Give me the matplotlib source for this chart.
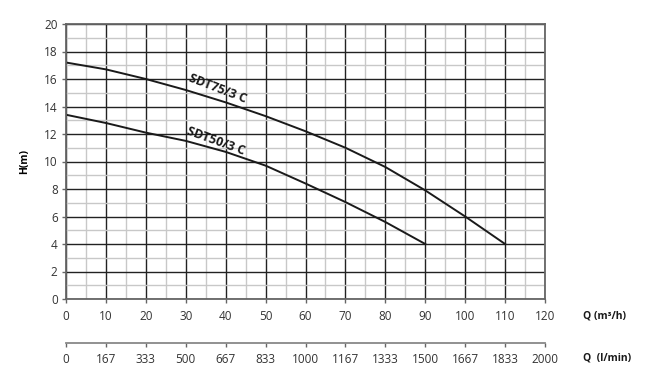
import numpy as np
import matplotlib.pyplot as plt

plt.rcParams['font.family'] = ['Open Sans', 'DejaVu Sans']

q = [0, 10, 20, 30, 40, 50, 60, 70, 80, 90, 100, 110]
h75 = [17.2, 16.7, 16.0, 15.2, 14.3, 13.3, 12.2, 11.0, 9.6, 7.9, 6.0, 4.0]
q50 = [0, 10, 20, 30, 40, 50, 60, 70, 80, 90]
h50 = [13.4, 12.8, 12.1, 11.5, 10.7, 9.7, 8.4, 7.05, 5.6, 4.0]
lmin_labels = ['0', '167', '333', '500', '667', '833', '1000', '1167', '1333', '1500', '1667', '1833', '2000']

W, H = 649, 377
fig = plt.figure(figsize=(W / 100, H / 100), dpi=100)
l, r, t, b = 66 / W, 545 / W, 1 - 24 / H, 1 - 299 / H
ax = fig.add_axes([l, b, r - l, t - b])

ax.set_xlim(0, 120)
ax.set_ylim(0, 20)
ax.set_xticks(np.arange(0, 121, 10))
ax.set_yticks(np.arange(0, 21, 2))
ax.set_xticks(np.arange(0, 121, 5), minor=True)
ax.set_yticks(np.arange(0, 21, 1), minor=True)
ax.grid(which='minor', color='#c8c8c8', lw=1.0)
ax.grid(which='major', color='#222222', lw=1.0)
ax.tick_params(which='minor', length=0)
ax.tick_params(which='major', length=3, width=1, color='#666666', labelsize=8.5, labelcolor='#333333', pad=5)
ax.tick_params(axis='y', pad=3)
for s in ax.spines.values():
    s.set_color('#666666')
    s.set_linewidth(1.3)
ax.set_axisbelow(True)

ax.plot(q, h75, color='#1a1a1a', lw=1.4)
ax.plot(q50, h50, color='#1a1a1a', lw=1.4)

ax.text(38.0, 15.3, 'SDT75/3 C', rotation=-21, fontsize=9, fontweight='bold',
        ha='center', va='center', color='#1a1a1a')
ax.text(37.6, 11.5, 'SDT50/3 C', rotation=-20, fontsize=9, fontweight='bold',
        ha='center', va='center', color='#1a1a1a')

ax.set_ylabel('H(m)', fontsize=7.5, fontweight='bold', labelpad=10)
fig.text(583 / W, 1 - 316 / H, 'Q (m³/h)', fontsize=7.5, fontweight='bold', va='center', color='#1a1a1a')

ax2 = fig.add_axes([l, 1 - 343 / H, r - l, 0.0001])
ax2.set_xlim(0, 2000)
ax2.set_xticks(np.arange(13) * 2000 / 12)
ax2.set_xticklabels(lmin_labels)
ax2.set_yticks([])
for k in ['top', 'left', 'right']:
    ax2.spines[k].set_visible(False)
ax2.spines['bottom'].set_color('#888888')
ax2.spines['bottom'].set_linewidth(1.3)
ax2.tick_params(length=3, width=1, color='#666666', labelsize=8.5, labelcolor='#333333', pad=4)
fig.text(583 / W, 1 - 358 / H, 'Q  (l/min)', fontsize=7.5, fontweight='bold', va='center', color='#1a1a1a')

fig.savefig('out.png', dpi=100)
